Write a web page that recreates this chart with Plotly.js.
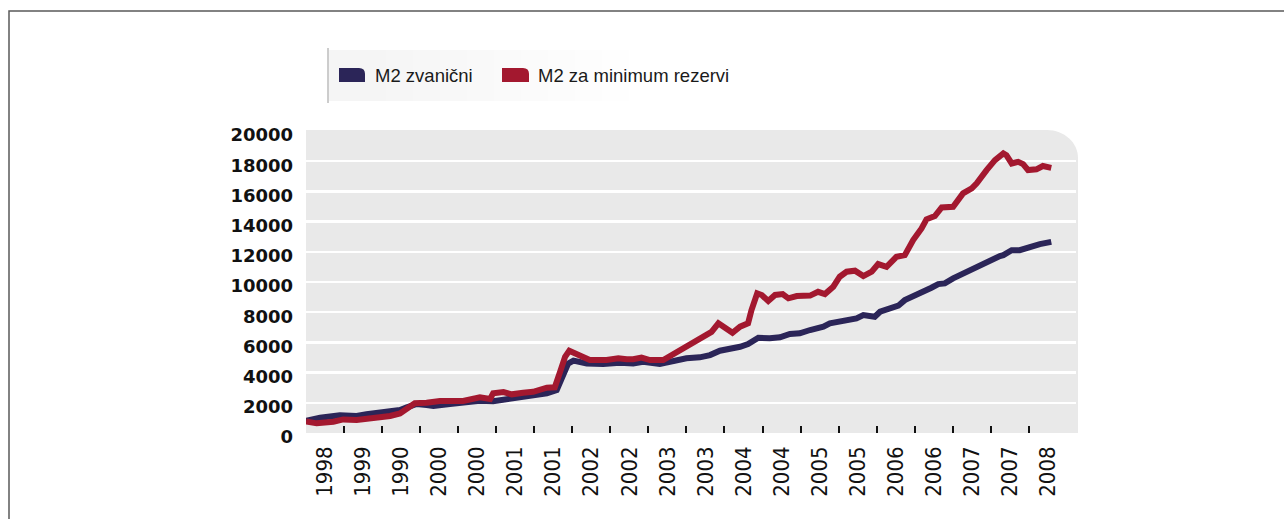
<!DOCTYPE html>
<html>
<head>
<meta charset="utf-8">
<script src="https://cdn.plot.ly/plotly-3.0.1.min.js"></script>
<style>
  html, body { margin: 0; padding: 0; background: #ffffff; }
  #chart { width: 1284px; height: 519px; }
</style>
</head>
<body>
<div id="chart"></div>
<script>
// ---- data (x = half-year period index, 0 = start of first labelled period) ----
const xLabels = ['1998','1999','1990','2000','2000','2001','2001','2002','2002','2003',
                 '2003','2004','2004','2005','2005','2006','2006','2007','2007','2008'];
const yTicks = [0,2000,4000,6000,8000,10000,12000,14000,16000,18000,20000];

const seriesNames = ['M2 zvanični', 'M2 za minimum rezervi'];

const periodNavy = [0.00,0.37,0.89,1.33,1.59,2.03,2.47,2.65,2.91,3.17,3.35,3.78,4.22,4.57,4.92,
  5.27,5.62,5.97,6.33,6.59,6.76,6.89,7.03,7.38,7.81,8.25,8.60,8.86,9.30,9.57,10.00,10.35,10.62,
  10.88,11.14,11.41,11.62,11.89,12.19,12.46,12.72,12.98,13.25,13.60,13.77,14.03,14.30,14.47,
  14.65,14.95,15.09,15.35,15.57,15.74,16.01,16.22,16.44,16.62,16.79,17.01,17.19,17.50,17.76,
  17.98,18.24,18.33,18.55,18.76,19.03,19.29,19.59];
const m2Zvanicni = [800,1010,1170,1125,1240,1345,1520,1700,1920,1850,1790,1920,2000,2140,2100,
  2230,2300,2400,2630,2850,3730,4600,4790,4610,4570,4650,4610,4720,4570,4720,4945,5010,5160,
  5450,5540,5710,5890,6310,6270,6335,6560,6600,6820,7040,7260,7370,7530,7590,
  7810,7700,8030,8250,8430,8800,9090,9350,9620,9860,9910,10240,10460,10900,11230,
  11450,11720,11780,12110,12110,12330,12510,12660];

const periodRed = [0.00,0.28,0.72,0.98,1.33,1.77,2.21,2.47,2.65,2.86,3.17,3.52,4.13,4.40,4.57,
  4.84,4.92,5.19,5.41,5.71,5.97,6.33,6.54,6.68,6.81,6.92,7.03,7.20,7.46,7.90,8.21,8.43,8.60,
  8.82,9.04,9.39,9.57,9.74,10.00,10.18,10.44,10.66,10.84,11.01,11.21,11.41,11.62,11.71,11.86,
  11.98,12.15,12.33,12.53,12.68,12.90,13.25,13.46,13.64,13.86,14.03,14.21,14.43,14.65,14.87,
  15.04,15.26,15.52,15.74,15.96,16.18,16.31,16.53,16.71,17.01,17.27,17.50,17.63,17.89,18.11,
  18.33,18.41,18.55,18.72,18.85,18.98,19.20,19.37,19.59];
const m2MinRezervi = [760,640,750,900,860,970,1125,1300,1570,1970,2000,2120,2120,2300,2360,
  2250,2630,2715,2560,2670,2730,3000,3025,4060,5050,5450,5315,5050,4830,4830,4945,4880,4880,
  4990,4830,4830,5100,5315,5670,5940,6375,6700,7260,7000,6640,7040,7260,8140,9250,
  9140,8740,9140,9200,8920,9070,9100,9350,9200,9690,10350,10680,10750,10390,10680,
  11190,11010,11670,11780,12780,13550,14150,14370,14940,14980,15870,16200,16530,17410,18070,
  18520,18400,17850,17960,17810,17410,17460,17680,17560];

// ---- layout geometry (pixels) ----
const W = 1284, H = 519;
const PL = 306, PR = 1076, PT = 131, PB = 433;
const xEnd = 20.24;               // axis end in period units
const px = X => (X - PL) / (PR - PL);
const py = Y => (PB - Y) / (PB - PT);

const NAVY = '#2b2558', RED = '#a3182f', BG = '#e9e9e9';

const labelPos = xLabels.map((_, i) => i + 0.5);
const tickBounds = xLabels.slice(0, -1).map((_, i) => i).concat([xLabels.length - 1, xEnd]);
const gridVals = yTicks.slice(1, -1);

const traces = [
  { x: periodNavy, y: m2Zvanicni, name: seriesNames[0], type: 'scatter', mode: 'lines',
    line: { color: NAVY, width: 6 }, showlegend: false, hoverinfo: 'skip' },
  { x: periodRed, y: m2MinRezervi, name: seriesNames[1], type: 'scatter', mode: 'lines',
    line: { color: RED, width: 6 }, showlegend: false, hoverinfo: 'skip' },
  { x: [], y: [], xaxis: 'x2', yaxis: 'y2', type: 'scatter', mode: 'lines',
    showlegend: false, hoverinfo: 'skip' }
];

// rounded background (top-right corner)
const rX = 31 / (PR - PL), rY = 28 / (PB - PT), k = 0.5523;
const xr = px(1078), yt = py(130);
const bgPath = `M 0 0 L 0 ${yt} L ${xr - rX} ${yt} C ${xr - rX + rX * k} ${yt} ${xr} ${yt - rY + rY * k} ${xr} ${yt - rY} L ${xr} 0 Z`;

const shapes = [
  { type: 'path', xref: 'paper', yref: 'paper', path: bgPath, fillcolor: BG,
    line: { width: 0 }, layer: 'below' },
  // outer frame
  { type: 'path', xref: 'paper', yref: 'paper',
    path: `M ${px(9)} ${py(530)} L ${px(9)} ${py(11)} L ${px(1290)} ${py(11)}`,
    line: { color: '#5a5a5a', width: 1.5 }, layer: 'above' },
  // legend divider
  { type: 'line', xref: 'paper', yref: 'paper', x0: px(328), x1: px(328), y0: py(48), y1: py(103),
    line: { color: '#9a9a9a', width: 1 } }
];
// soft legend backdrop
for (let i = 0; i < 10; i++) {
  shapes.push({ type: 'rect', xref: 'paper', yref: 'paper', layer: 'below',
    x0: px(329), x1: px(329 + 300 - i * 27), y0: py(101), y1: py(50),
    fillcolor: 'rgba(0,0,0,0.0055)', line: { width: 0 } });
}
// legend swatches (rounded top-right corner)
function swatch(X0, X1, Y0, Y1, col) {
  const r = 6;
  const p = `M ${px(X0)} ${py(Y1)} L ${px(X0)} ${py(Y0)} L ${px(X1 - r)} ${py(Y0)} ` +
            `Q ${px(X1)} ${py(Y0)} ${px(X1)} ${py(Y0 + r)} L ${px(X1)} ${py(Y1)} Z`;
  return { type: 'path', xref: 'paper', yref: 'paper', path: p, fillcolor: col, line: { width: 0 } };
}
shapes.push(swatch(339, 365, 68, 82, NAVY));
shapes.push(swatch(502, 529, 68, 82, RED));

const legendFont = { family: 'Liberation Sans, Arial, sans-serif', size: 18.5, color: '#1a1a1a' };
const annotations = [
  { xref: 'paper', yref: 'paper', x: px(373), y: py(75.5), xanchor: 'left', yanchor: 'middle',
    text: seriesNames[0], showarrow: false, font: legendFont },
  { xref: 'paper', yref: 'paper', x: px(536), y: py(75.5), xanchor: 'left', yanchor: 'middle',
    text: seriesNames[1], showarrow: false, font: legendFont }
];

const layout = {
  width: W, height: H,
  margin: { l: PL, r: W - PR, t: PT, b: H - PB, pad: 0 },
  paper_bgcolor: '#ffffff', plot_bgcolor: 'rgba(0,0,0,0)',
  showlegend: false,
  xaxis: {
    range: [0, xEnd], autorange: false, tickmode: 'array', tickvals: labelPos, ticktext: xLabels,
    ticks: '', showgrid: false, zeroline: false, showline: false, tickangle: -90,
    ticklabelstandoff: 8,
    tickfont: { family: 'Liberation Sans Narrow, Arial Narrow, DejaVu Sans Condensed, sans-serif', size: 22, color: '#111' }
  },
  xaxis2: {
    overlaying: 'x', anchor: 'y', range: [0, xEnd], autorange: false, tickmode: 'array',
    tickvals: tickBounds, ticks: 'inside', ticklen: 7, tickwidth: 2, tickcolor: '#111',
    showticklabels: false, showgrid: false, zeroline: false, showline: false
  },
  yaxis: {
    range: [0, 20000], autorange: false, tickmode: 'array', tickvals: yTicks,
    ticktext: yTicks.map(String), ticks: '', showgrid: false, zeroline: false, showline: false,
    ticklabelstandoff: 12, ticklabelshift: 4,
    tickfont: { family: 'DejaVu Sans, sans-serif', size: 18, color: '#111', weight: 'bold' }
  },
  yaxis2: {
    overlaying: 'y', anchor: 'x', range: [0, 20000], autorange: false, tickmode: 'array',
    tickvals: gridVals, showticklabels: false, ticks: '', showgrid: true,
    gridcolor: '#ffffff', gridwidth: 2.5, zeroline: false, showline: false
  },
  shapes: shapes,
  annotations: annotations
};

Plotly.newPlot('chart', traces, layout, { staticPlot: true, displayModeBar: false });
</script>
</body>
</html>
